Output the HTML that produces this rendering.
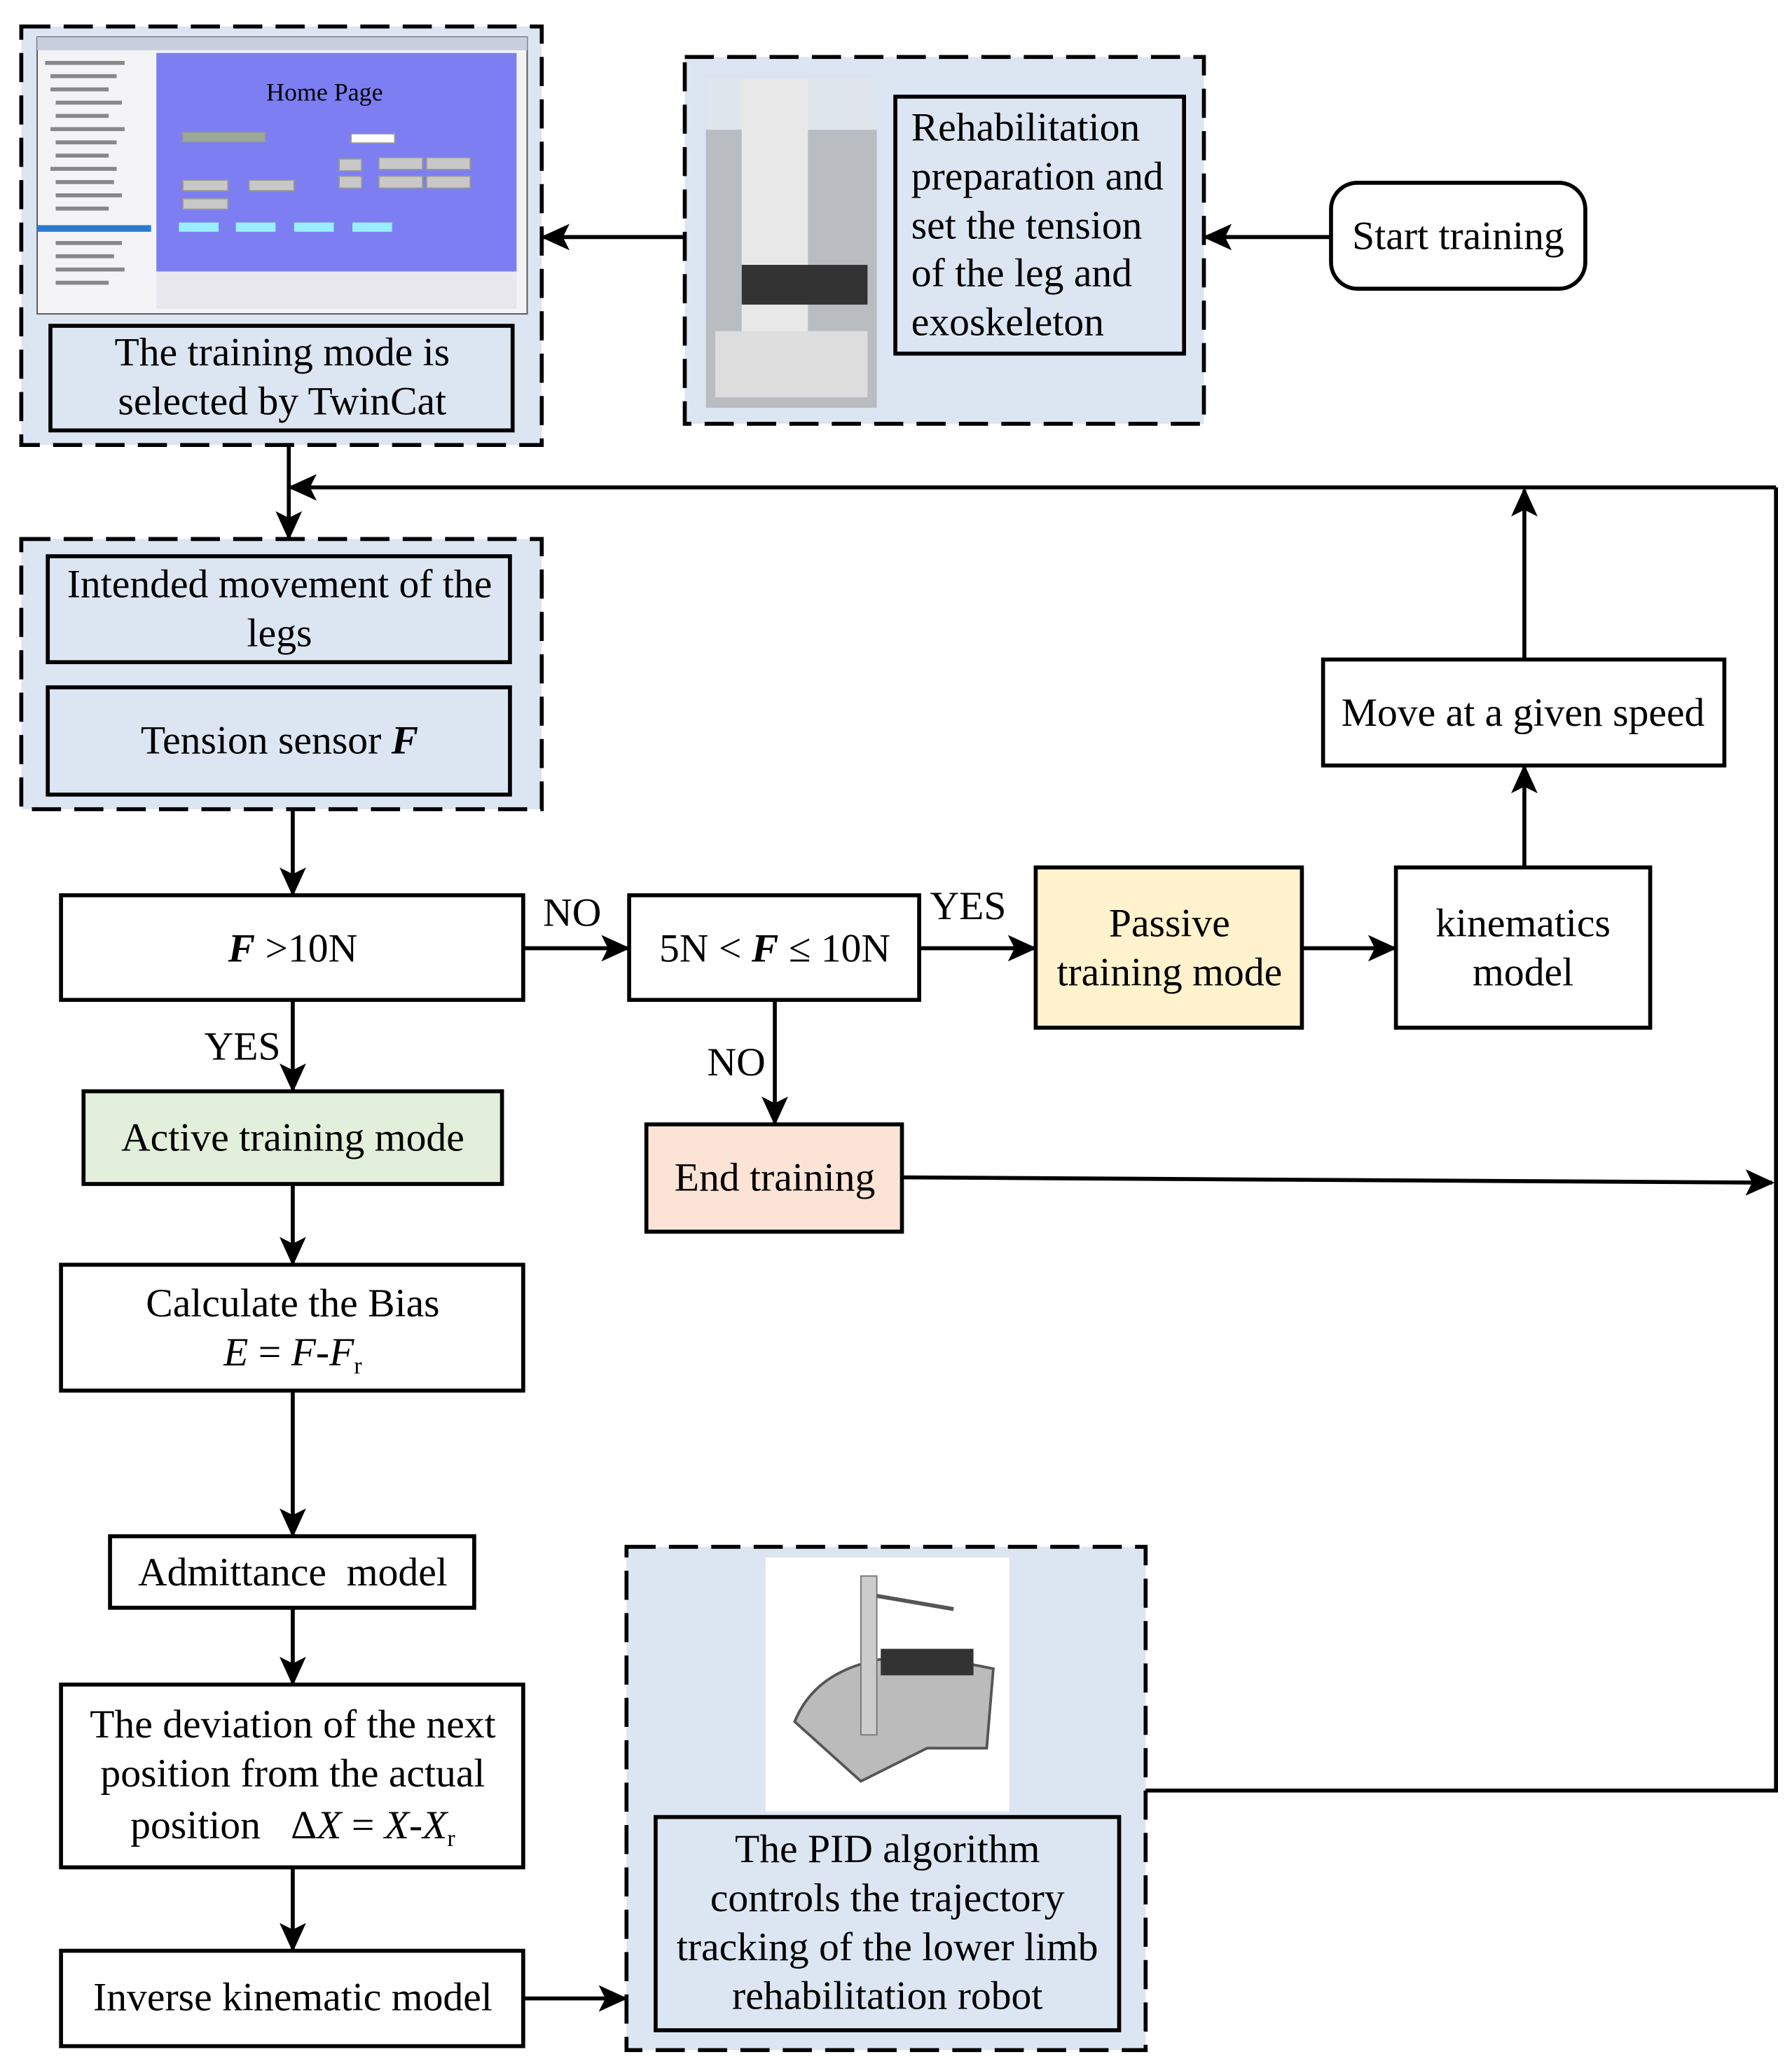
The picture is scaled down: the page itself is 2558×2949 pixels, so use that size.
<!DOCTYPE html>
<html><head><meta charset="utf-8"><style>
html,body{margin:0;padding:0;background:#fff;}
svg{display:block;}
text{font-family:"Liberation Serif",serif;font-size:30.5px;fill:#000;}
</style></head><body>
<svg width="2558" height="2949" viewBox="0 0 1353 1560" xmlns="http://www.w3.org/2000/svg">
<defs>
<marker id="b" markerWidth="22" markerHeight="20" refX="20" refY="10" orient="auto" markerUnits="userSpaceOnUse"><path d="M0,0 L22,10 L0,20 L5,10 Z" fill="#000"/></marker>
</defs>
<g stroke="#000" stroke-width="3" stroke-dasharray="22,10">
<rect x="16" y="20" width="393" height="316" fill="#dce6f2"/>
<rect x="517" y="43" width="392" height="277" fill="#dce6f2"/>
<rect x="16" y="407" width="393" height="204" fill="#dce6f2"/>
<rect x="473" y="1168" width="392" height="380" fill="#dce6f2"/>
</g>
<rect x="28" y="28" width="370" height="209" fill="#f4f4f6" stroke="#555" stroke-width="1"/>
<rect x="28" y="28" width="370" height="10" fill="#c8d0e0"/>
<rect x="118" y="40" width="272" height="165" fill="#7c7ef2"/>
<rect x="118" y="205" width="272" height="28" fill="#e8e8ee"/>
<rect x="28" y="170" width="86" height="5" fill="#2a7ad0"/>
<g fill="#888"><rect x="34" y="46" width="60" height="3"/><rect x="38" y="56" width="50" height="3"/><rect x="38" y="66" width="44" height="3"/><rect x="42" y="76" width="50" height="3"/><rect x="42" y="86" width="40" height="3"/><rect x="38" y="96" width="56" height="3"/><rect x="42" y="106" width="46" height="3"/><rect x="42" y="116" width="40" height="3"/><rect x="38" y="126" width="50" height="3"/><rect x="42" y="136" width="44" height="3"/><rect x="42" y="146" width="50" height="3"/><rect x="42" y="156" width="40" height="3"/><rect x="42" y="182" width="50" height="3"/><rect x="42" y="192" width="44" height="3"/><rect x="42" y="202" width="52" height="3"/><rect x="42" y="212" width="40" height="3"/></g>
<text x="245" y="76" text-anchor="middle" style="font-size:19px">Home Page</text>
<g fill="#c8c8c8" stroke="#999" stroke-width="1">
<rect x="138" y="100" width="62" height="7" fill="#9a9"/>
<rect x="265" y="101" width="33" height="7" fill="#fff"/>
<rect x="256" y="120" width="17" height="9"/><rect x="256" y="133" width="17" height="9"/>
<rect x="286" y="119" width="33" height="9"/><rect x="322" y="119" width="33" height="9"/>
<rect x="286" y="133" width="33" height="9"/><rect x="322" y="133" width="33" height="9"/>
<rect x="138" y="136" width="34" height="8"/><rect x="188" y="136" width="34" height="8"/>
<rect x="138" y="150" width="34" height="8"/>
</g>
<g fill="#9ef"><rect x="135" y="168" width="30" height="7"/><rect x="178" y="168" width="30" height="7"/><rect x="222" y="168" width="30" height="7"/><rect x="266" y="168" width="30" height="7"/></g>
<rect x="533" y="58" width="129" height="250" fill="#b9bcc0"/>
<rect x="533" y="58" width="129" height="40" fill="#dfe6ee"/>
<rect x="560" y="60" width="50" height="200" fill="#e8e8e8"/>
<rect x="560" y="200" width="95" height="30" fill="#333"/>
<rect x="540" y="250" width="115" height="50" fill="#ddd"/>
<rect x="578" y="1176" width="184" height="192" fill="#fff"/>
<path d="M600 1300 Q620 1250 700 1250 L750 1260 L745 1320 L700 1320 L650 1345 Z" fill="#bbb" stroke="#555" stroke-width="2"/>
<rect x="650" y="1190" width="12" height="120" fill="#ccc" stroke="#777"/>
<path d="M662 1205 L720 1215" stroke="#555" stroke-width="3"/>
<rect x="665" y="1245" width="70" height="20" fill="#333"/>
<g stroke="#000" stroke-width="3">
<rect x="38" y="246" width="349" height="79" fill="#dce6f2"/>
<rect x="676" y="73" width="218" height="194" fill="#dce6f2"/>
<rect x="1005" y="138" width="192" height="80" rx="20" fill="#fff"/>
<rect x="36" y="420" width="349" height="80" fill="#dce6f2"/>
<rect x="36" y="519" width="349" height="81" fill="#dce6f2"/>
<rect x="46" y="676" width="349" height="79" fill="#fff"/>
<rect x="475" y="676" width="219" height="79" fill="#fff"/>
<rect x="782" y="655" width="201" height="121" fill="#fff2cc"/>
<rect x="1054" y="655" width="192" height="121" fill="#fff"/>
<rect x="999" y="498" width="303" height="80" fill="#fff"/>
<rect x="63" y="824" width="316" height="70" fill="#e2efda"/>
<rect x="488" y="849" width="193" height="81" fill="#fbe4d5"/>
<rect x="46" y="955" width="349" height="95" fill="#fff"/>
<rect x="83" y="1160" width="275" height="54" fill="#fff"/>
<rect x="46" y="1272" width="349" height="138" fill="#fff"/>
<rect x="46" y="1473" width="349" height="72" fill="#fff"/>
<rect x="495" y="1372" width="350" height="161" fill="#dce6f2"/>
</g>
<g stroke="#000" stroke-width="3" fill="none" marker-end="url(#b)">
<line x1="1005" y1="179" x2="910" y2="179"/>
<line x1="517" y1="179" x2="410" y2="179"/>
<line x1="218" y1="336" x2="218" y2="406"/>
<line x1="1341" y1="368" x2="219" y2="368"/>
<line x1="221" y1="611" x2="221" y2="675"/>
<line x1="395" y1="716" x2="474" y2="716"/>
<line x1="694" y1="716" x2="781" y2="716"/>
<line x1="983" y1="716" x2="1053" y2="716"/>
<line x1="1151" y1="655" x2="1151" y2="579"/>
<line x1="1151" y1="498" x2="1151" y2="370"/>
<line x1="221" y1="755" x2="221" y2="823"/>
<line x1="585" y1="755" x2="585" y2="848"/>
<line x1="681" y1="889" x2="1338" y2="893"/>
<line x1="221" y1="894" x2="221" y2="954"/>
<line x1="221" y1="1050" x2="221" y2="1159"/>
<line x1="221" y1="1214" x2="221" y2="1271"/>
<line x1="221" y1="1410" x2="221" y2="1472"/>
<line x1="395" y1="1509" x2="472" y2="1509"/>
</g>
<polyline points="865,1352 1341,1352 1341,368" stroke="#000" stroke-width="3" fill="none"/>
<g text-anchor="middle">
<text x="213" y="276">The training mode is</text>
<text x="213" y="313">selected by TwinCat</text>
<text x="1101" y="188">Start training</text>
<text x="211" y="451">Intended movement of the</text>
<text x="211" y="488">legs</text>
<text x="211" y="569">Tension sensor <tspan font-weight="bold" font-style="italic">F</tspan></text>
<text x="221" y="726"><tspan font-weight="bold" font-style="italic">F</tspan> &gt;10N</text>
<text x="585" y="726">5N &lt; <tspan font-weight="bold" font-style="italic">F</tspan> ≤ 10N</text>
<text x="883" y="707">Passive</text>
<text x="883" y="744">training mode</text>
<text x="1150" y="707">kinematics</text>
<text x="1150" y="744">model</text>
<text x="1150" y="548">Move at a given speed</text>
<text x="221" y="869">Active training mode</text>
<text x="585" y="899">End training</text>
<text x="221" y="994">Calculate the Bias</text>
<text x="221" y="1031"><tspan font-style="italic">E</tspan> = <tspan font-style="italic">F</tspan>-<tspan font-style="italic">F</tspan><tspan style="font-size:18px" dy="6">r</tspan></text>
<text x="221" y="1197">Admittance&#160;&#160;model</text>
<text x="221" y="1312">The deviation of the next</text>
<text x="221" y="1349">position from the actual</text>
<text x="221" y="1388">position&#160;&#160;&#160;Δ<tspan font-style="italic">X</tspan> = <tspan font-style="italic">X</tspan>-<tspan font-style="italic">X</tspan><tspan style="font-size:18px" dy="6">r</tspan></text>
<text x="221" y="1518">Inverse kinematic model</text>
<text x="670" y="1406">The PID algorithm</text>
<text x="670" y="1443">controls the trajectory</text>
<text x="670" y="1480">tracking of the lower limb</text>
<text x="670" y="1517">rehabilitation robot</text>
<text x="432" y="699">NO</text>
<text x="731" y="694">YES</text>
<text x="183" y="800">YES</text>
<text x="556" y="812">NO</text>
</g>
<g>
<text x="688" y="106">Rehabilitation</text>
<text x="688" y="143">preparation and</text>
<text x="688" y="180">set the tension</text>
<text x="688" y="216">of the leg and</text>
<text x="688" y="253">exoskeleton</text>
</g>
</svg>
</body></html>
